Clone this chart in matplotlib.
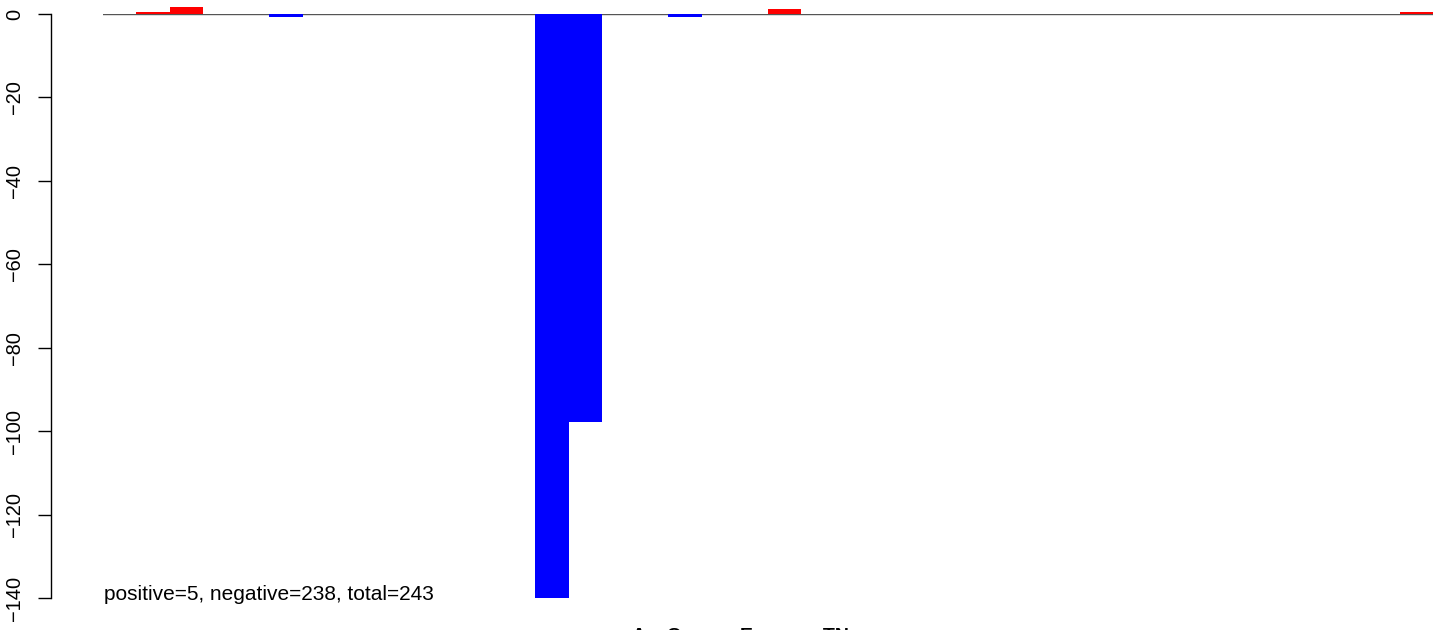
import matplotlib
matplotlib.use("Agg")
import matplotlib.pyplot as plt

plt.rcParams['font.family'] = ['Liberation Sans', 'DejaVu Sans']

# data: 40 slots, only non-zero values listed
slots = [1, 2, 5, 13, 14, 17, 20, 39]
values = [0.5, 1.7, -0.7, -140, -97.8, -0.65, 1.2, 0.5]
n_slots = 40
yticks = [0, -20, -40, -60, -80, -100, -120, -140]
note = "positive=5, negative=238, total=243"
bottom_title = "A    C           E             TN"

W, H = 1444, 630
fig = plt.figure(figsize=(W / 100, H / 100), dpi=100)
ax = fig.add_axes([103 / W, (H - 598) / H, 1330 / W, 584 / H])
ax.set_xlim(0, n_slots)
ax.set_ylim(-140, 0)

ax.plot([0, n_slots], [0, 0], color='#555555', lw=1.0, zorder=1)
colors = ['#FF0000' if v > 0 else '#0000FF' for v in values]
ax.bar(slots, values, width=1.0, align='edge', color=colors, linewidth=0, zorder=2, clip_on=False)

for s in ['top', 'right', 'bottom']:
    ax.spines[s].set_visible(False)
ax.spines['left'].set_position(('outward', 37.4))
ax.spines['left'].set_bounds(-140, 0)
ax.spines['left'].set_linewidth(1.0)
ax.set_xticks([])
ax.set_yticks(yticks)
ax.set_yticklabels([str(t).replace('-', '\u2212') for t in yticks], rotation=90, va='center', fontsize=14.4)
ax.tick_params(axis='y', length=9.4, width=1.0, pad=10)

fig.text(104 / W, 1 - 600 / H, note, fontsize=15, ha='left', va='baseline')
fig.text(632 / W, 1 - 641 / H, bottom_title, fontsize=14, fontweight='bold', ha='left', va='baseline')

fig.savefig('out.png', dpi=100)
